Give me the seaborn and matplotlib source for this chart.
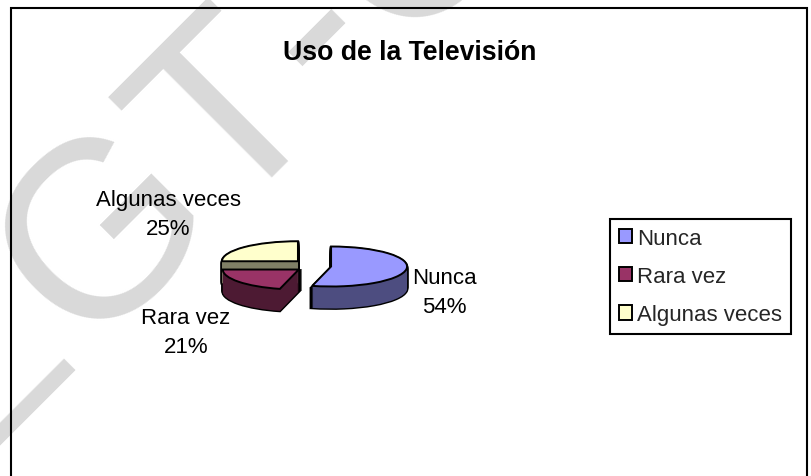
import matplotlib
matplotlib.use("Agg")
import matplotlib.pyplot as plt
from matplotlib.patches import Rectangle
import seaborn as sns

categories = ["Nunca", "Rara vez", "Algunas veces"]
values = [54, 21, 25]
title = "Uso de la Televisión"
top_colors = ["#9999FF", "#993366", "#FFFFCC"]
wall_colors = ["#4D4D80", "#4D1A33", "#808066"]
explode = [0.2, 0.287, 0.336]

W, H = 811, 477
sns.set_theme(style="white")
plt.rcParams["font.family"] = ["Liberation Sans", "DejaVu Sans"]

fig = plt.figure(figsize=(W / 100, H / 100), dpi=100, facecolor="white")
ax = fig.add_axes([0, 0, 1, 1])

def fx(x): return x / W
def fy(y): return 1 - y / H

# watermark letters
WM = "#D9D9D9"
watermark = [("G", 154, 282), ("T", 279, 165), ("-", 362, 77), ("C", 464, -15), ("–", 66, 458)]
for ch, x, y in watermark:
    fig.text(fx(x), fy(y), ch, rotation=45, rotation_mode="anchor", ha="center", va="baseline",
             fontsize=180, color=WM, zorder=0)

# 3D pie: stacked pies squashed through the axes scale, drawn back to front
RX, RY, CX, CY, DEPTH = 76, 20, 316, 267, 22
order = [2, 1, 0]
vals = [values[i] for i in order]
tops = [top_colors[i] for i in order]
walls = [wall_colors[i] for i in order]
common = dict(explode=[explode[i] for i in order], startangle=90, counterclock=True, radius=1)
for d in range(DEPTH, 0, -1):
    ax.pie(vals, colors=["black"] * 3, center=(0, -d / RY),
           wedgeprops=dict(edgecolor="black", linewidth=2.0), **common)
for d in range(DEPTH, 0, -1):
    ax.pie(vals, colors=walls, center=(0, -d / RY),
           wedgeprops=dict(edgecolor="none", linewidth=0), **common)
ax.pie(vals, colors=tops, center=(0, 0),
       wedgeprops=dict(edgecolor="black", linewidth=1.4), **common)
ax.set_aspect("auto")
ax.set_xlim(-CX / RX, (W - CX) / RX)
ax.set_ylim(-(H - CY) / RY, CY / RY)
ax.patch.set_alpha(0)
ax.set_axis_off()

# slice labels
label_pos = [(444, 293), (186, 333), (168, 215)]
for cat, val, (x, y) in zip(categories, values, label_pos):
    fig.text(fx(x), fy(y), f"{cat}\n{val}%", ha="center", va="center", fontsize=16,
             color="black", linespacing=1.45)

fig.text(fx(410), fy(53), title, ha="center", va="center", fontsize=19.2, fontweight="bold", color="black")

# legend
handles = [Rectangle((0, 0), 1, 1, facecolor=c, edgecolor="black", linewidth=1.4) for c in top_colors]
leg = fig.legend(handles, categories, loc="center left", bbox_to_anchor=(fx(610), fy(277.5)),
                 fontsize=16, frameon=True, fancybox=False, framealpha=1, edgecolor="black",
                 handlelength=0.6, handleheight=0.6, handletextpad=0.2, labelspacing=0.78,
                 borderpad=0.4, borderaxespad=0)
leg.get_frame().set_linewidth(1.5)

# outer chart frame (runs past the lower edge)
fig.add_artist(Rectangle((fx(11), fy(H + 20)), fx(807 - 11), (H + 20 - 9) / H, fill=False,
                         edgecolor="black", linewidth=1.5, transform=fig.transFigure))

fig.savefig("out.png", dpi=100, facecolor="white")
